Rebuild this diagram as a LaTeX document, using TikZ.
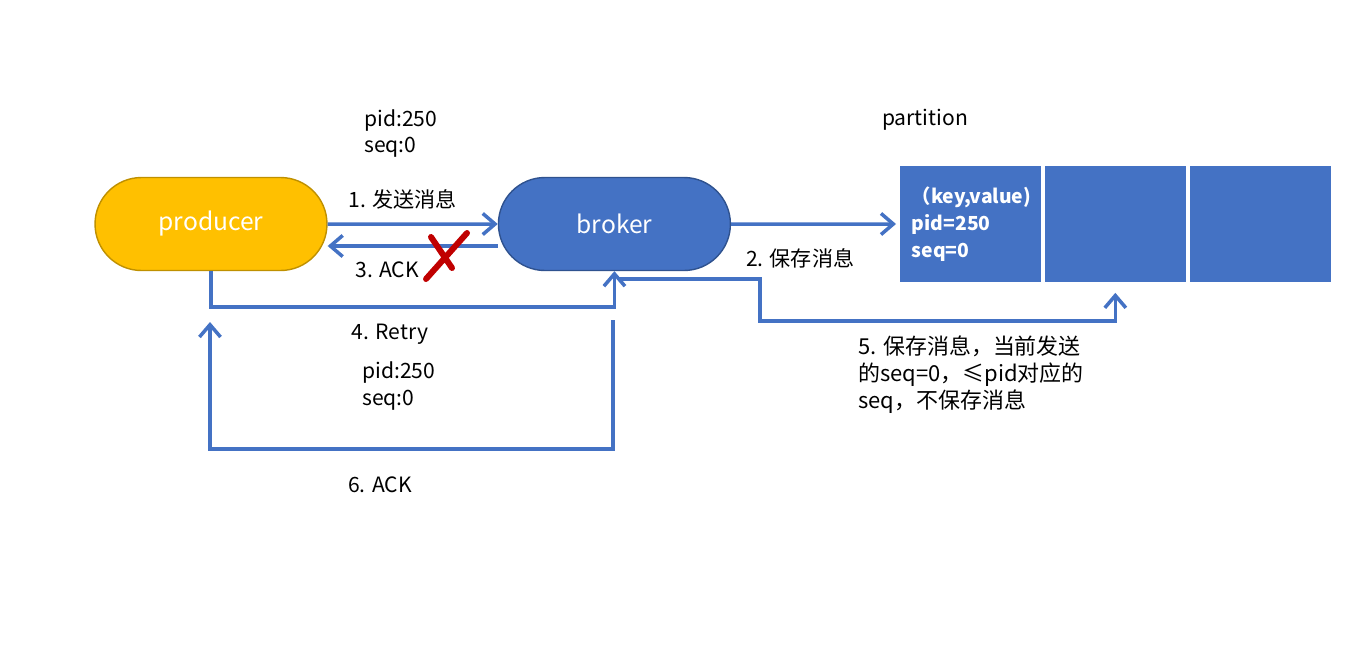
\documentclass[tikz,border=0pt]{standalone}
\usepackage{fontspec}
\setmainfont{Noto Sans CJK SC}
\usepackage{tikz}
\usetikzlibrary{shapes.misc,arrows.meta,positioning}

\definecolor{boxblue}{HTML}{4472C4}
\definecolor{boxrim}{HTML}{2F528F}
\definecolor{prodgold}{HTML}{FFC000}
\definecolor{prodrim}{HTML}{BF9000}
\definecolor{crossred}{HTML}{C00000}

\tikzset{
  pill/.style={rounded rectangle, minimum width=4.64cm, minimum height=1.86cm, inner xsep=0pt, line width=0.8pt, text=white, font=\fontsize{14}{16}\selectfont},
  slot/.style={rectangle, fill=boxblue, minimum width=2.82cm, minimum height=2.34cm, inner sep=0pt},
  msg/.style={font=\fontsize{12}{15.3}\selectfont, align=left, inner sep=0pt},
  flow/.style={-{Straight Barb[length=7pt,width=12pt]}, draw=boxblue, line width=2pt},
}

\begin{document}
\begin{tikzpicture}[x=0.02cm,y=-0.02cm,node distance=8.07cm,on grid]
  \useasboundingbox (0,0) rectangle (1368,650);

  \node[pill, fill=prodgold, draw=prodrim] (producer) at (211,224) {producer};
  \node[pill, fill=boxblue, draw=boxrim] (broker) [right=of producer] {broker};
  \node[slot, text width=2.34cm, align=left, text=white, font=\bfseries\fontsize{11}{15.3}\selectfont] (p1) [right=7.12cm of broker] {（key,value)\\pid=250\\seq=0};
  \node[slot] (p2) [right=2.9cm of p1] {};
  \node[slot] (p3) [right=2.9cm of p2] {};

  \node[msg, anchor=west] (meta1) at (364,133.5) {pid:250\\seq:0};
  \node[msg] (part) at (925,120) {partition};
  \node[msg] (retry) at (390,334) {4. Retry};
  \node[msg, anchor=west] (meta2) at (362,386) {pid:250\\seq:0};
  \node[msg] (ack6) at (380,485) {6. ACK};
  \node[msg, anchor=west, font=\fontsize{12.5}{15.3}\selectfont] (note5) at (858,375) {5. 保存消息，当前发送\\的seq=0，≤pid对应的\\seq，不保存消息};

  \coordinate (b5) at (618,279);
  \coordinate (b6) at (613,320);
  \coordinate (p6) at (210,322);

  \draw[flow] (producer) -- node[msg, yshift=0.5cm, xshift=-0.2cm] {1. 发送消息} (broker);
  \draw[flow] ([yshift=-0.44cm]broker.west) -- node[msg, pos=0.65, yshift=-0.48cm] {3. ACK} ([yshift=-0.44cm]producer.east);
  \draw[flow, shorten >=2pt] (broker) -- node[msg, pos=0.41, yshift=-0.68cm] {2. 保存消息} (p1);
  \draw[flow] (producer.south) -- ++(0,36) -| (broker.south);
  \draw[flow, shorten >=0.2cm] (b5) -- ++(142,0) -- ++(0,42) -| (p2.south);
  \draw[flow] (b6) -- ++(0,129) -| (p6);

  % lost ack
  \draw[crossred, line width=0.12cm, line cap=round] (426,279) -- (467,233) (431,237) -- (452,268);
\end{tikzpicture}
\end{document}
